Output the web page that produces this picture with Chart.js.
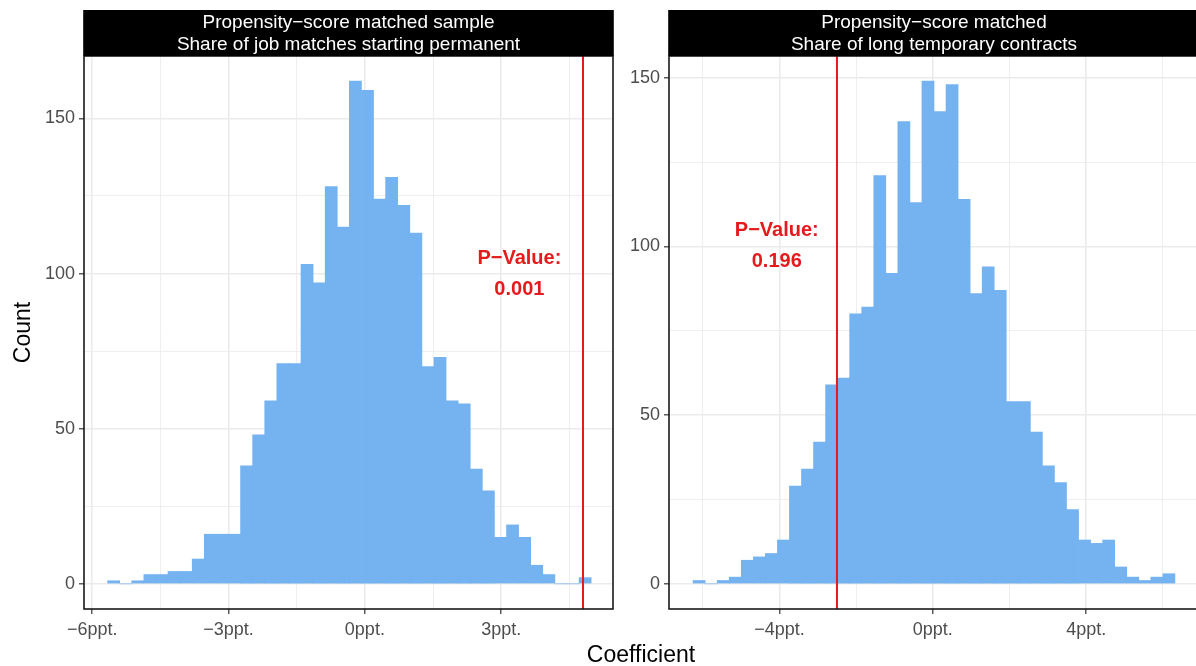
<!DOCTYPE html>
<html>
<head>
<meta charset="utf-8">
<script src="https://cdn.jsdelivr.net/npm/chart.js@4.4.1/dist/chart.umd.min.js"></script>
<style>
  html, body { margin: 0; padding: 0; background: #fff; overflow: hidden; }
  body { width: 1196px; height: 666px; position: relative; font-family: "Liberation Sans", Arial, sans-serif; }
  canvas { position: absolute; top: 0; }
  #leftChart { left: 0; }
  #rightChart { left: 620px; }
  #xTitle { position: absolute; left: 541px; width: 200px; top: 640px; text-align: center; font-size: 23px; line-height: 28px; color: #000; }
</style>
</head>
<body>
<canvas id="leftChart" width="620" height="666"></canvas>
<canvas id="rightChart" width="600" height="666"></canvas>
<div id="xTitle">Coefficient</div>
<script>
// histogram counts (40 bins per panel)
const leftCounts = [1, 0, 1, 3, 3, 4, 4, 8, 16, 16, 16, 38, 48, 59, 71, 71, 103, 97, 128, 115,
                    162, 159, 124, 131, 122, 113, 70, 73, 59, 58, 37, 30, 15, 19, 15, 6, 3, 0, 0, 2];
const rightCounts = [1, 0, 1, 2, 7, 8, 9, 13, 29, 34, 42, 59, 61, 80, 82, 121, 92, 137, 113, 149,
                     140, 148, 114, 86, 94, 87, 54, 54, 45, 35, 30, 22, 13, 12, 13, 5, 2, 1, 2, 3];

// bin layout (first bin edge and bin width, in ppt)
const leftBinStart = -5.661, leftBinWidth = 0.266;
const rightBinStart = -6.252, rightBinWidth = 0.3141;

// axis ticks
const leftXTicks = [-6, -3, 0, 3];
const leftXLabels = ['\u22126ppt.', '\u22123ppt.', '0ppt.', '3ppt.'];
const leftXMinor = [-4.5, -1.5, 1.5, 4.5];
const rightXTicks = [-4, 0, 4];
const rightXLabels = ['\u22124ppt.', '0ppt.', '4ppt.'];
const rightXMinor = [-6, -2, 2, 6];
const yTicks = [0, 50, 100, 150];
const yMinor = [25, 75, 125];

// observed coefficient and p-values
const leftObserved = 4.8, rightObserved = -2.5;
const leftPValue = '0.001', rightPValue = '0.196';
const leftStrip = ['Propensity\u2212score matched sample', 'Share of job matches starting permanent'];
const rightStrip = ['Propensity\u2212score matched', 'Share of long temporary contracts'];

const FONT = '"Liberation Sans", Arial, sans-serif';
const BAR_BLUE = 'rgb(116, 178, 240)';
const RED = '#e41a1c';

// strip on top, panel border, red line and p-value text
const panelPlugin = {
  id: 'panel',
  afterDatasetsDraw(chart, args, opts) {
    const { ctx, chartArea: a } = chart;
    const xs = chart.scales.x, ys = chart.scales.y;
    ctx.save();
    // observed value
    const lx = xs.getPixelForValue(opts.lineX);
    ctx.strokeStyle = RED;
    ctx.lineWidth = 2;
    ctx.beginPath();
    ctx.moveTo(lx, a.top);
    ctx.lineTo(lx, a.bottom);
    ctx.stroke();
    // p-value label
    ctx.fillStyle = RED;
    ctx.font = 'bold 20px ' + FONT;
    ctx.textAlign = 'center';
    ctx.textBaseline = 'middle';
    const tx = xs.getPixelForValue(opts.textX);
    const ty = ys.getPixelForValue(opts.textY);
    ctx.fillText('P\u2212Value:', tx, ty - 15.5);
    ctx.fillText(opts.pValue, tx, ty + 15.5);
    // border
    ctx.strokeStyle = '#1a1a1a';
    ctx.lineWidth = 1.6;
    ctx.strokeRect(a.left, a.top, a.right - a.left, a.bottom - a.top);
    // strip
    ctx.fillStyle = '#000';
    ctx.fillRect(a.left - 0.8, 10, a.right - a.left + 1.6, a.top - 10);
    ctx.fillStyle = '#fff';
    ctx.font = '19px ' + FONT;
    const cx = (a.left + a.right) / 2;
    opts.lines.forEach((l, i) => ctx.fillText(l, cx, 22.5 + i * 22));
    ctx.restore();
  }
};

function makePanel(id, p) {
  const data = p.counts.map((c, i) => ({ x: p.binStart + (i + 0.5) * p.binWidth, y: c }));
  const isMajorX = v => p.xTicks.includes(v);
  const isMajorY = v => yTicks.includes(v);
  return new Chart(document.getElementById(id), {
    type: 'bar',
    data: {
      datasets: [{
        data: data,
        backgroundColor: BAR_BLUE,
        borderWidth: 0,
        barPercentage: 1,
        categoryPercentage: 1
      }]
    },
    options: {
      responsive: false,
      animation: false,
      events: [],
      layout: { padding: { top: 56, right: p.padRight, left: 0, bottom: 0 } },
      plugins: {
        legend: { display: false },
        tooltip: { enabled: false },
        panel: { lines: p.strip, lineX: p.observed, textX: p.textX, textY: 100, pValue: p.pValue }
      },
      scales: {
        x: {
          type: 'linear',
          min: p.xMin,
          max: p.xMax,
          offset: false,
          border: { display: false },
          grid: {
            offset: false,
            color: '#ebebeb',
            lineWidth: c => isMajorX(c.tick.value) ? 1.6 : 0.8,
            tickColor: c => isMajorX(c.tick.value) ? '#333' : 'rgba(0,0,0,0)',
            tickLength: 5,
            tickWidth: 1.2
          },
          ticks: {
            autoSkip: false,
            maxRotation: 0,
            padding: 5,
            color: '#4d4d4d',
            font: { family: FONT, size: 18 },
            callback: v => {
              const k = p.xTicks.indexOf(v);
              return k >= 0 ? p.xLabels[k] : '';
            }
          },
          afterBuildTicks: s => {
            s.ticks = p.xTicks.concat(p.xMinor).sort((a, b) => a - b).map(v => ({ value: v }));
          },
          afterFit: s => { s.height = 57; }
        },
        y: {
          min: p.yMin,
          max: p.yMax,
          border: { display: false },
          grid: {
            color: '#ebebeb',
            lineWidth: c => isMajorY(c.tick.value) ? 1.6 : 0.8,
            tickColor: c => isMajorY(c.tick.value) ? '#333' : 'rgba(0,0,0,0)',
            tickLength: 5,
            tickWidth: 1.2
          },
          ticks: {
            autoSkip: false,
            padding: 4,
            color: '#4d4d4d',
            font: { family: FONT, size: 18 },
            callback: v => isMajorY(v) ? String(v) : ''
          },
          title: {
            display: p.showYTitle,
            text: 'Count',
            color: '#000',
            font: { family: FONT, size: 23 },
            padding: { top: 10, bottom: 0 }
          },
          afterBuildTicks: s => {
            s.ticks = yTicks.concat(yMinor).sort((a, b) => a - b).map(v => ({ value: v }));
          },
          afterFit: s => { s.width = p.yWidth; }
        }
      }
    },
    plugins: [panelPlugin]
  });
}

makePanel('leftChart', {
  counts: leftCounts, binStart: leftBinStart, binWidth: leftBinWidth,
  xTicks: leftXTicks, xLabels: leftXLabels, xMinor: leftXMinor,
  xMin: -6.18, xMax: 5.46, yMin: -8.1, yMax: 170.1,
  observed: leftObserved, textX: 3.4, pValue: leftPValue, strip: leftStrip,
  padRight: 7, yWidth: 84, showYTitle: true
});

makePanel('rightChart', {
  counts: rightCounts, binStart: rightBinStart, binWidth: rightBinWidth,
  xTicks: rightXTicks, xLabels: rightXLabels, xMinor: rightXMinor,
  xMin: -6.88, xMax: 6.94, yMin: -7.45, yMax: 156.45,
  observed: rightObserved, textX: -4.07, pValue: rightPValue, strip: rightStrip,
  padRight: 21, yWidth: 49, showYTitle: false
});
</script>
</body>
</html>
